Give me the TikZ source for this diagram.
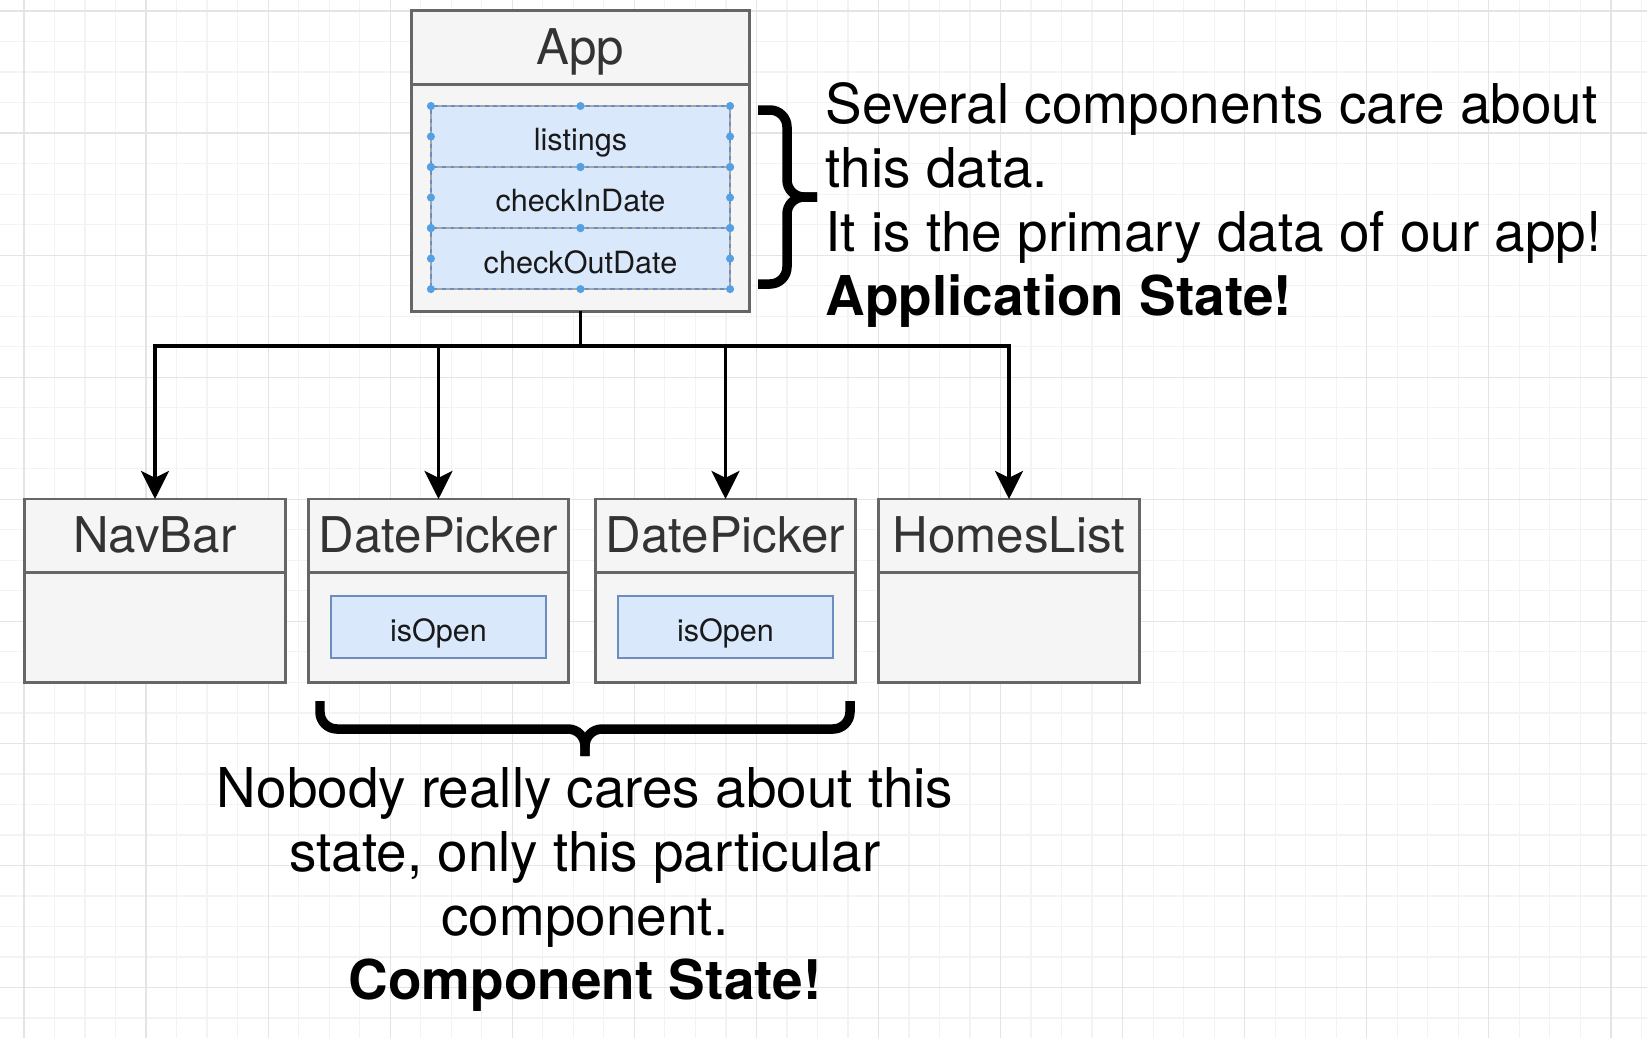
\documentclass[tikz,border=0pt]{standalone}
\usepackage{fontspec}
\setmainfont{TeX Gyre Heros}
\definecolor{boxfill}{RGB}{245,245,245}
\definecolor{boxline}{RGB}{102,102,102}
\definecolor{titlegray}{RGB}{51,51,51}
\definecolor{fieldfill}{RGB}{218,232,252}
\definecolor{fieldline}{RGB}{108,142,191}
\definecolor{handleblue}{RGB}{84,160,226}
\definecolor{gridminor}{RGB}{243,243,243}
\definecolor{gridmajor}{RGB}{228,228,228}
\usetikzlibrary{positioning, arrows.meta}

\begin{document}
\begin{tikzpicture}[x=0.01cm, y=-0.01cm,
    comphead/.style={draw=boxline, fill=boxfill, line width=0.85pt, text=titlegray,
      minimum width=2.60cm, minimum height=0.73cm, inner sep=0pt, outer sep=0pt,
      text height=10.3pt, text depth=0.5pt, font=\fontsize{14}{16}\selectfont},
    compbody/.style={draw=boxline, fill=boxfill, line width=0.85pt,
      minimum width=2.60cm, minimum height=1.10cm, inner sep=0pt, outer sep=0pt},
    statefield/.style={draw=fieldline, fill=fieldfill, line width=0.7pt, text=black!90,
      inner sep=0pt, outer sep=0pt, text height=8.4pt, text depth=0.2pt,
      font=\fontsize{8.7}{10}\selectfont},
    selline/.style={draw=black!35, line width=0.35pt, dash pattern=on 1.2pt off 1.2pt},
    handle/.style={fill=handleblue},
    note/.style={inner sep=0pt, text=black, font=\fontsize{15.6}{18.2}\selectfont},
    brace/.style={line width=2.7pt, rounded corners=0.17cm},
    arrow/.style={-{Stealth[length=8pt, width=8pt, inset=2pt]}, line width=0.9pt},
  ]
    \useasboundingbox (0,0) rectangle (1647,1038);
    \fill[white] (0,0) rectangle (1647,1038);
    \draw[gridminor, line width=0.35pt, shift={(24,11)}] (-24,-11) grid[step=0.305cm] (1623,1027);
    \draw[gridmajor, line width=0.35pt, shift={(24,11)}] (-24,-11) grid[step=1.22cm] (1623,1027);

    \node[comphead, minimum width=3.37cm] (app) at (580.5,47.5) {App};
    \node[compbody, minimum width=3.37cm, minimum height=2.27cm, below=0pt of app] (appbody) {};
    \node[statefield, minimum width=2.99cm, minimum height=0.61cm] (listings) at (580.5,136.5) {listings};
    \node[statefield, minimum width=2.99cm, minimum height=0.61cm, below=0pt of listings] (checkin) {checkInDate};
    \node[statefield, minimum width=2.99cm, minimum height=0.61cm, below=0pt of checkin] (checkout) {checkOutDate};
    \foreach \row in {listings, checkin, checkout} {
      \draw[selline] (\row.north west) rectangle (\row.south east);
      \foreach \pos in {north west, north, north east, west, east, south west, south, south east}
        \fill[handle] (\row.\pos) circle (1.15pt);
    }

    \node[comphead] (navbar) at (155,535.5) {NavBar};
    \node[compbody, below=0pt of navbar] (navbarbody) {};
    \node[comphead] (picker1) at (438.5,535.5) {DatePicker};
    \node[compbody, below=0pt of picker1] (picker1body) {};
    \node[comphead] (picker2) at (725.5,535.5) {DatePicker};
    \node[compbody, below=0pt of picker2] (picker2body) {};
    \node[comphead] (homes) at (1009,535.5) {HomesList};
    \node[compbody, below=0pt of homes] (homesbody) {};
    \node[statefield, minimum width=2.15cm, minimum height=0.62cm] (open1) at (picker1body) {isOpen};
    \node[statefield, minimum width=2.15cm, minimum height=0.62cm] (open2) at (picker2body) {isOpen};

    \coordinate (split) at (580.5,346);
    \draw[arrow] (appbody.south) -- (split) -| (navbar.north);
    \draw[arrow] (appbody.south) -- (split) -| (picker1.north);
    \draw[arrow] (appbody.south) -- (split) -| (picker2.north);
    \draw[arrow] (appbody.south) -- (split) -| (homes.north);

    \draw[brace] (758,110) -| (787,197) -- (817,197);
    \draw[brace] (758,284) -| (787,197) -- (817,197);
    \node[note, align=left, anchor=north west] (appnote) at (825,82)
      {Several components care about\\this data.\\It is the primary data of our app!\\\textbf{Application State!}};

    \draw[brace] (320,701) |- (585,729) -- (585,756);
    \draw[brace] (850,701) |- (585,729) -- (585,756);
    \node[note, align=center, anchor=north] (pickernote) at (585,767)
      {Nobody really cares about this\\state, only this particular\\component.\\\textbf{Component State!}};
  \end{tikzpicture}
\end{document}
